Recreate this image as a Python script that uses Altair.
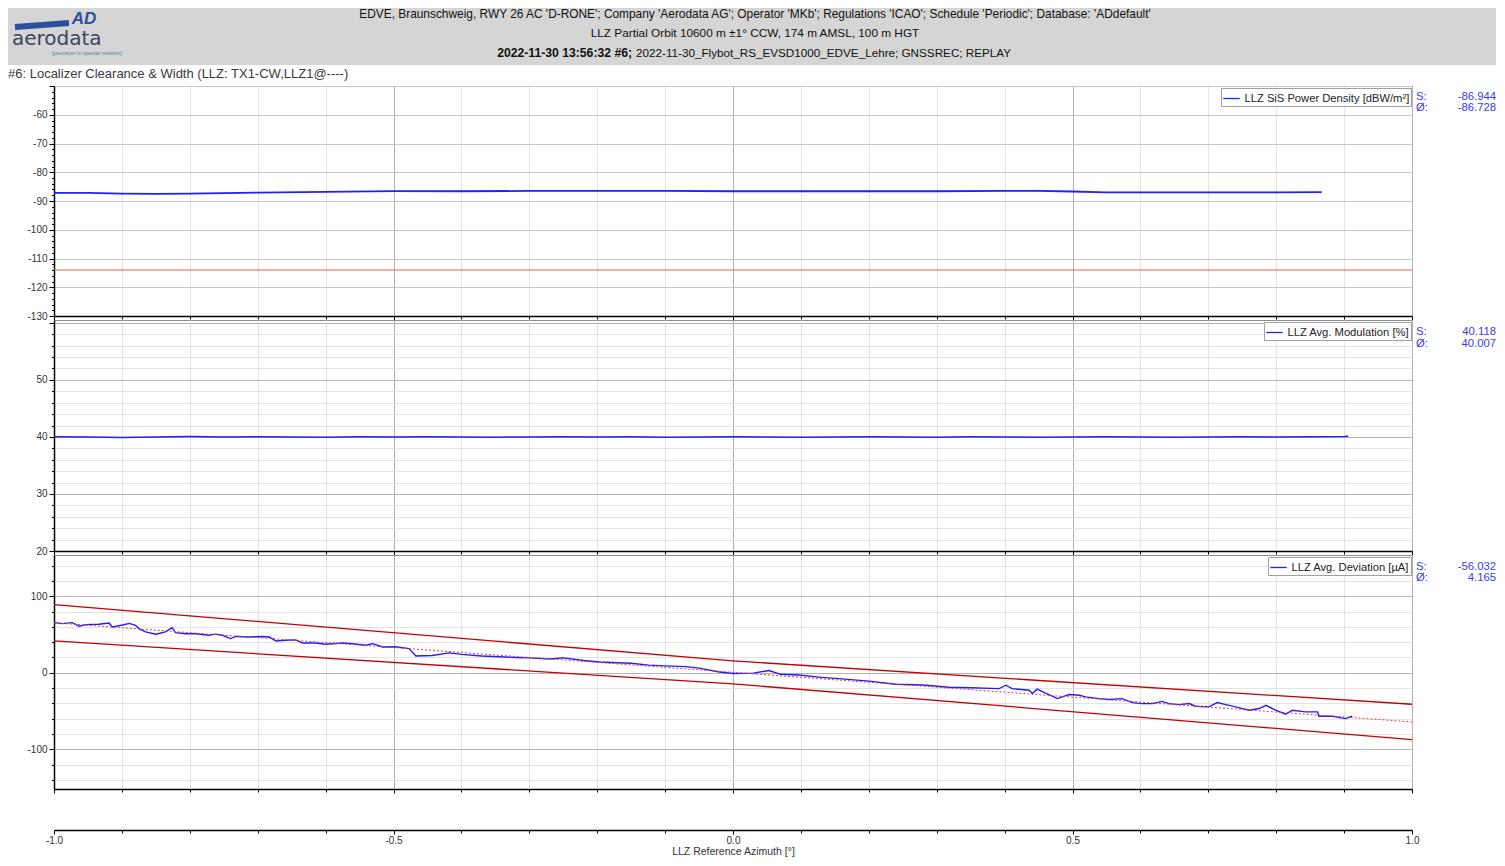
import altair as alt
import pandas as pd

# ---------------- data ----------------
az_tick_values = [-1.0, -0.9, -0.8, -0.7, -0.6, -0.5, -0.4, -0.3, -0.2, -0.1, 0.0,
                  0.1, 0.2, 0.3, 0.4, 0.5, 0.6, 0.7, 0.8, 0.9, 1.0]

# Panel 1: LLZ SiS Power Density
sis_x = [-1.0, -0.95, -0.9, -0.85, -0.8, -0.7, -0.6, -0.5, -0.4, -0.3, -0.2, -0.1,
         0.0, 0.1, 0.2, 0.3, 0.4, 0.45, 0.5, 0.55, 0.6, 0.7, 0.8, 0.867]
sis_y = [-87.2, -87.2, -87.4, -87.5, -87.4, -87.1, -86.8, -86.6, -86.6, -86.5, -86.5, -86.5,
         -86.6, -86.6, -86.6, -86.6, -86.5, -86.5, -86.7, -87.0, -87.0, -87.0, -87.0, -86.94]
sis_limit = [-114.0]
sis_stats = ["-86.944", "-86.728"]

# Panel 2: LLZ Avg. Modulation
mod_x = [-1.0, -0.95, -0.9, -0.85, -0.8, -0.75, -0.7, -0.65, -0.6, -0.55, -0.5, -0.45,
         -0.4, -0.35, -0.3, -0.25, -0.2, -0.15, -0.1, -0.05, 0.0, 0.05, 0.1, 0.15, 0.2,
         0.25, 0.3, 0.35, 0.4, 0.45, 0.5, 0.55, 0.6, 0.65, 0.7, 0.75, 0.8, 0.85, 0.9, 0.906]
mod_y = [40.05, 40.0, 39.92, 40.0, 40.06, 40.0, 40.04, 39.98, 39.95, 40.04,
         40.0, 40.05, 40.0, 39.95, 40.0, 40.05, 40.0, 40.04, 39.95, 40.0,
         40.04, 40.0, 39.95, 40.0, 40.05, 40.0, 39.95, 40.04, 40.0, 39.95,
         40.0, 40.05, 40.0, 39.95, 40.0, 40.04, 40.0, 40.05, 40.08, 40.12]
mod_stats = ["40.118", "40.007"]

# Panel 3: LLZ Avg. Deviation
dev_x = [-1.0, -0.988, -0.973, -0.963, -0.953, -0.934, -0.919, -0.914, -0.899, -0.889,
         -0.880, -0.875, -0.865, -0.850, -0.836, -0.826, -0.821, -0.806, -0.791, -0.772,
         -0.762, -0.752, -0.740, -0.732, -0.713, -0.693, -0.683, -0.673, -0.659, -0.644,
         -0.634, -0.615, -0.600, -0.575, -0.561, -0.541, -0.531, -0.516, -0.497, -0.477,
         -0.467, -0.443, -0.418, -0.400, -0.370, -0.345, -0.320, -0.300, -0.270, -0.250,
         -0.220, -0.197, -0.170, -0.150, -0.124, -0.100, -0.070, -0.050, -0.020, 0.000,
         0.030, 0.053, 0.070, 0.097, 0.130, 0.160, 0.200, 0.240, 0.280, 0.318,
         0.350, 0.392, 0.402, 0.411, 0.436, 0.441, 0.448, 0.461, 0.478, 0.495,
         0.510, 0.519, 0.539, 0.554, 0.573, 0.588, 0.603, 0.618, 0.632, 0.642,
         0.657, 0.672, 0.681, 0.701, 0.713, 0.726, 0.740, 0.760, 0.775, 0.785,
         0.799, 0.814, 0.824, 0.843, 0.861, 0.863, 0.883, 0.902, 0.912]
dev_y = [65.6, 64.3, 65.6, 60.8, 63.0, 63.5, 65.0, 60.0, 62.5, 64.5,
         62.0, 57.8, 53.4, 50.3, 53.4, 59.0, 52.5, 51.0, 51.0, 49.0,
         50.5, 49.0, 44.7, 47.5, 46.8, 47.5, 46.8, 41.6, 42.5, 43.0,
         39.0, 39.0, 37.3, 39.0, 38.0, 36.0, 38.0, 33.7, 34.0, 31.6,
         22.0, 22.5, 26.0, 24.0, 22.0, 21.0, 20.0, 19.5, 18.0, 19.5,
         16.0, 14.0, 13.0, 12.5, 10.0, 9.0, 8.0, 6.0, 1.0, -1.0,
         -0.5, 3.0, -2.0, -3.0, -6.0, -8.0, -11.0, -15.0, -16.0, -19.0,
         -19.5, -20.7, -16.3, -20.7, -22.9, -27.2, -21.4, -27.0, -33.8, -28.5,
         -29.4, -31.6, -33.8, -35.0, -33.8, -39.0, -40.3, -40.3, -37.5, -40.3,
         -41.6, -40.3, -43.8, -44.6, -39.0, -41.6, -44.6, -49.0, -46.8, -42.5,
         -49.0, -54.2, -49.0, -51.2, -51.2, -56.9, -56.9, -59.9, -56.9]
dev_upper_x = [-1.0, 0.0, 1.0]
dev_upper_y = [89.1, 15.5, -41.2]
dev_lower_x = [-1.0, 0.0, 1.0]
dev_lower_y = [41.6, -14.5, -87.3]
dev_center_x = [-1.0, 1.0]
dev_center_y = [65.4, -64.3]
dev_stats = ["-56.032", "4.165"]

# ---------------- text ----------------
header_line1 = ("EDVE, Braunschweig, RWY 26 AC 'D-RONE'; Company 'Aerodata AG'; Operator 'MKb'; "
                "Regulations 'ICAO'; Schedule 'Periodic'; Database: 'ADdefault'")
header_line2 = "LLZ Partial Orbit 10600 m \u00b11\u00b0 CCW, 174 m AMSL, 100 m HGT"
header_line3_bold = "2022-11-30 13:56:32 #6;"
header_line3 = "2022-11-30_Flybot_RS_EVSD1000_EDVE_Lehre; GNSSREC; REPLAY"
subtitle = "#6: Localizer Clearance & Width (LLZ: TX1-CW,LLZ1@----)"
x_title = "LLZ Reference Azimuth [\u00b0]"

# ---------------- styling ----------------
FONT = "Liberation Sans"
W = 1358
BLUE = "#1f1fff"
STAT_BLUE = "#3a3af0"
MAJ_X = "abs(datum.value * 2 - round(datum.value * 2)) < 0.001"
dummy = pd.DataFrame({"d": [0]})

x_scale = alt.Scale(domain=[-1.0, 1.0], nice=False, zero=False)


def panel_x_axis():
    return alt.Axis(values=az_tick_values, tickCount=200, labels=False, title=None, orient="bottom",
                    domainColor="#000000", domainWidth=1.5, tickColor="#000000",
                    tickSize={"condition": {"test": MAJ_X, "value": 4}, "value": 3},
                    grid=True, gridWidth=1,
                    gridColor={"condition": {"test": MAJ_X, "value": "#b0b0b0"}, "value": "#e3e3e3"})


def y_axis(values, label_test, major_test, major_grid, minor_grid):
    return alt.Axis(values=values, tickCount=500, title=None, labelOverlap=False,
                    labelExpr="(" + label_test + ") ? datum.value + '' : ''",
                    domainColor="#000000", domainWidth=1.5, tickColor="#000000",
                    tickSize={"condition": {"test": major_test, "value": 5}, "value": 2.5},
                    grid=True, gridWidth=1,
                    gridColor={"condition": {"test": major_test, "value": major_grid}, "value": minor_grid},
                    labelFont=FONT, labelFontSize=10, labelColor="#333333", labelPadding=2)


def legend():
    return alt.Legend(orient="top-right", title=None, offset=1.5, padding=1.5,
                      strokeColor="#a0a0a0", fillColor="#ffffff", symbolType="stroke",
                      symbolStrokeWidth=1.3, symbolSize=270, labelFont=FONT,
                      labelFontSize=11.2, labelColor="#222222", labelLimit=400, labelOffset=4)


def stats_layers(vals, y0, y1):
    out = []
    for lab, val, yy in (("S:", vals[0], y0), ("\u00d8:", vals[1], y1)):
        out.append(alt.Chart(dummy).mark_text(text=lab, align="left", baseline="middle", font=FONT,
                                              fontSize=11.3, color=STAT_BLUE)
                   .encode(x=alt.value(1362), y=alt.value(yy)))
        out.append(alt.Chart(dummy).mark_text(text=val, align="right", baseline="middle", font=FONT,
                                              fontSize=11.3, color=STAT_BLUE)
                   .encode(x=alt.value(1442), y=alt.value(yy)))
    return out


view_bg = alt.ViewBackground(stroke="#8c8c8c", strokeWidth=1, fill="#ffffff")


# ---------------- header ----------------
def htext(txt, x, y, size=11.8, weight="normal", align="center", color="#111111", style="normal",
          font=FONT):
    return alt.Chart(dummy).mark_text(text=txt, align=align, baseline="middle", font=font,
                                      fontSize=size, fontWeight=weight, fontStyle=style,
                                      color=color).encode(x=alt.value(x), y=alt.value(y))


header = alt.layer(
    alt.Chart(dummy).mark_rect(color="#d5d5d5").encode(
        x=alt.value(-46), x2=alt.value(1442), y=alt.value(0), y2=alt.value(57)),
    alt.Chart(dummy).mark_rule(color="#2c4f9c", strokeWidth=6).encode(
        x=alt.value(-39), x2=alt.value(15), y=alt.value(19), y2=alt.value(15)),
    htext("AD", 30, 10.5, size=17, weight="bold", style="italic", color="#2c4f9c"),
    htext("aerodata", -42, 31, size=20, align="left", color="#3a4560", font="DejaVu Sans"),
    htext("[precision in special mission]", 33, 45, size=5.5, color="#5a7bb5"),
    htext(header_line1, 701, 6, size=11.9),
    htext(header_line2, 701, 25, size=11.8),
    htext(header_line3_bold, 578, 45, size=12.2, weight="bold", align="right"),
    htext(header_line3, 582, 45, size=11.7, align="left"),
    htext(subtitle, -46, 66, size=13, align="left", color="#3a3a3a"),
).properties(width=W, height=74)

# ---------------- panel 1 ----------------
df_sis = pd.DataFrame({"az": sis_x, "val": sis_y,
                       "series": ["LLZ SiS Power Density [dBW/m\u00b2]"] * len(sis_x)})
y1_scale = alt.Scale(domain=[-130, -50], nice=False, zero=False)
p1_line = alt.Chart(df_sis).mark_line(strokeWidth=1.8).encode(
    x=alt.X("az:Q", scale=x_scale, axis=panel_x_axis()),
    y=alt.Y("val:Q", scale=y1_scale,
            axis=y_axis(list(range(-130, -49, 2)), "datum.value % 10 === 0 && datum.value < -55",
                        "datum.value % 10 === 0", "#c4c4c4", "transparent")),
    color=alt.Color("series:N", scale=alt.Scale(range=[BLUE]), legend=legend()))
p1_limit = alt.Chart(pd.DataFrame({"val": sis_limit})).mark_rule(color="#e06060", strokeWidth=1).encode(
    y=alt.Y("val:Q", scale=y1_scale))
panel1 = alt.layer(p1_line, p1_limit, *stats_layers(sis_stats, 10.5, 22)).properties(
    width=W, height=230, view=view_bg)

# ---------------- panel 2 ----------------
df_mod = pd.DataFrame({"az": mod_x, "val": mod_y,
                       "series": ["LLZ Avg. Modulation [%]"] * len(mod_x)})
p2_line = alt.Chart(df_mod).mark_line(strokeWidth=1.5).encode(
    x=alt.X("az:Q", scale=x_scale, axis=panel_x_axis()),
    y=alt.Y("val:Q", scale=alt.Scale(domain=[20, 60.5], nice=False, zero=False),
            axis=y_axis(list(range(20, 61, 2)), "datum.value % 10 === 0 && datum.value < 59",
                        "datum.value % 10 === 0", "#b4b4b4", "#e3e3e3")),
    color=alt.Color("series:N", scale=alt.Scale(range=[BLUE]), legend=legend()))
panel2 = alt.layer(p2_line, *stats_layers(mod_stats, 12, 23.5)).properties(
    width=W, height=231, view=view_bg)

# ---------------- panel 3 ----------------
y3_scale = alt.Scale(domain=[-152, 154], nice=False, zero=False)
df_dev = pd.DataFrame({"az": dev_x, "val": dev_y,
                       "series": ["LLZ Avg. Deviation [\u00b5A]"] * len(dev_x)})
df_bounds = pd.DataFrame({"az": dev_upper_x + dev_lower_x, "val": dev_upper_y + dev_lower_y,
                          "grp": ["upper"] * len(dev_upper_x) + ["lower"] * len(dev_lower_x)})
df_center = pd.DataFrame({"az": dev_center_x, "val": dev_center_y})
p3_line = alt.Chart(df_dev).mark_line(strokeWidth=1.4).encode(
    x=alt.X("az:Q", scale=x_scale, axis=panel_x_axis()),
    y=alt.Y("val:Q", scale=y3_scale,
            axis=y_axis(list(range(-140, 141, 20)), "datum.value % 100 === 0",
                        "datum.value % 100 === 0", "#b4b4b4", "#e3e3e3")),
    color=alt.Color("series:N", scale=alt.Scale(range=[BLUE]), legend=legend()))
p3_bounds = alt.Chart(df_bounds).mark_line(color="#c40000", strokeWidth=1.3).encode(
    x=alt.X("az:Q", scale=x_scale), y=alt.Y("val:Q", scale=y3_scale), detail="grp:N")
p3_center = alt.Chart(df_center).mark_line(color="#e04040", strokeWidth=1, strokeDash=[2, 2]).encode(
    x=alt.X("az:Q", scale=x_scale), y=alt.Y("val:Q", scale=y3_scale))
panel3 = alt.layer(p3_line, p3_bounds, p3_center, *stats_layers(dev_stats, 11.5, 23)).properties(
    width=W, height=234, view=view_bg)

# ---------------- bottom azimuth axis ----------------
bottom = alt.Chart(pd.DataFrame({"az": [-1.0, 1.0]})).mark_point(opacity=0).encode(
    x=alt.X("az:Q", scale=x_scale,
            axis=alt.Axis(values=az_tick_values, tickCount=200, orient="bottom", title=x_title, grid=False,
                          labelOverlap=False, labelFlush=False,
                          labelExpr="(" + MAJ_X + ") ? replace(format(datum.value, '.1f'), '\u2212', '-') : ''",
                          domainColor="#000000", domainWidth=1.5, tickColor="#000000",
                          tickSize={"condition": {"test": MAJ_X, "value": 4}, "value": 3},
                          labelFont=FONT, labelFontSize=10, labelColor="#333333", labelPadding=1,
                          titleFont=FONT, titleFontSize=10.5, titleFontWeight="normal",
                          titleColor="#333333", titlePadding=1.5))
).properties(width=W, height=37)

chart = alt.vconcat(header, panel1, panel2, panel3, bottom, spacing=4, bounds="flush", padding=0
                    ).resolve_scale(x="independent", y="independent", color="independent"
                    ).resolve_legend(color="independent"
                    ).configure_view(strokeWidth=0)

chart.save("out.html", embed_options={"renderer": "svg", "actions": False})
